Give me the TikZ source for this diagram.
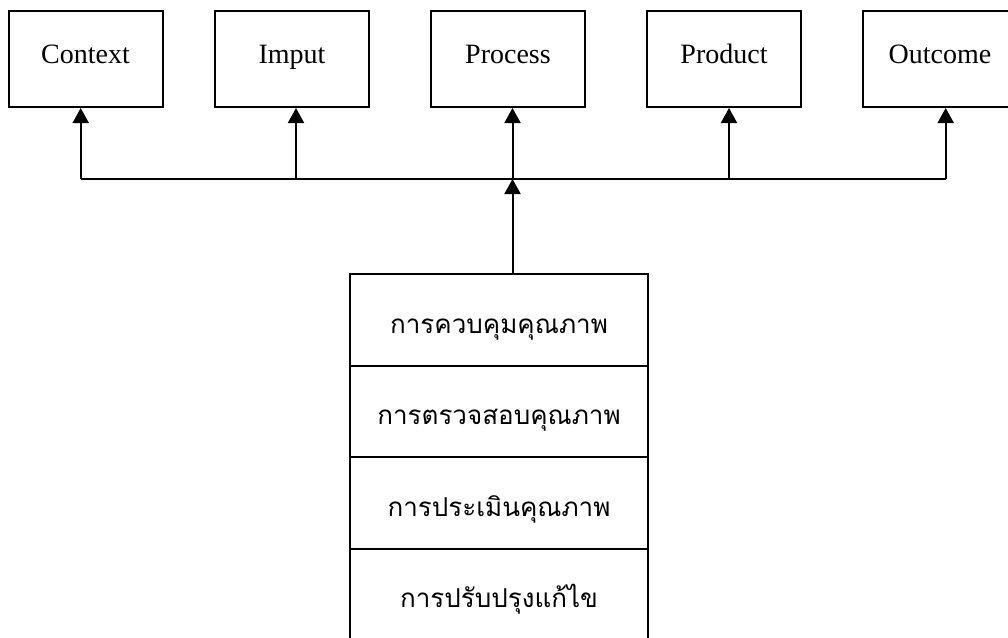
\documentclass[tikz,border=0pt]{standalone}
\usepackage{fontspec}
\setmainfont{Liberation Serif}
\newfontfamily\thaifont[Script=Thai]{Loma}
\usetikzlibrary{arrows.meta}
\begin{document}
\begin{tikzpicture}[x=1pt,y=-1pt,
  topbox/.style={draw,line width=2pt,minimum width=154pt,inner sep=0pt,
    text height=52pt,text depth=44pt,font=\fontsize{28}{28}\selectfont},
  rowbox/.style={draw,line width=2pt,minimum width=298pt,inner sep=0pt,
    text height=59pt,text depth=32.5pt,font=\thaifont\fontsize{26}{26}\selectfont},
  nextrow/.style={rowbox,anchor=north,yshift=2pt},
  conn/.style={line width=2pt},
  arr/.style={conn,-{Triangle[width=16pt,length=15pt]}}]
\useasboundingbox (0,0) rectangle (1008,637);
\clip (0,0) rectangle (1008,637);
\node[topbox] (ctx) at (85.5,59) {Context};
\node[topbox] (inp) at (292,59) {Imput};
\node[topbox] (pro) at (508,59) {Process};
\node[topbox] (prd) at (724,59) {Product};
\node[topbox] (out) at (940,59) {Outcome};
\node[rowbox] (r1) at (499,320) {การควบคุมคุณภาพ};
\node[nextrow] (r2) at (r1.south) {การตรวจสอบคุณภาพ};
\node[nextrow] (r3) at (r2.south) {การประเมินคุณภาพ};
\node[nextrow] (r4) at (r3.south) {การปรับปรุงแก้ไข};
\coordinate (j1) at (80.7,179);
\coordinate (j2) at (296,179);
\coordinate (j3) at (512.5,179);
\coordinate (j4) at (729,179);
\coordinate (j5) at (945.7,179);
\draw[conn] (j1) -- (j5);
\draw[arr] (j1) -- (j1 |- ctx.south);
\draw[arr] (j2) -- (j2 |- inp.south);
\draw[arr] (j3) -- (j3 |- pro.south);
\draw[arr] (j4) -- (j4 |- prd.south);
\draw[arr] (j5) -- (j5 |- out.south);
\draw[arr] (j3 |- r1.north) -- (j3);
\end{tikzpicture}
\end{document}
